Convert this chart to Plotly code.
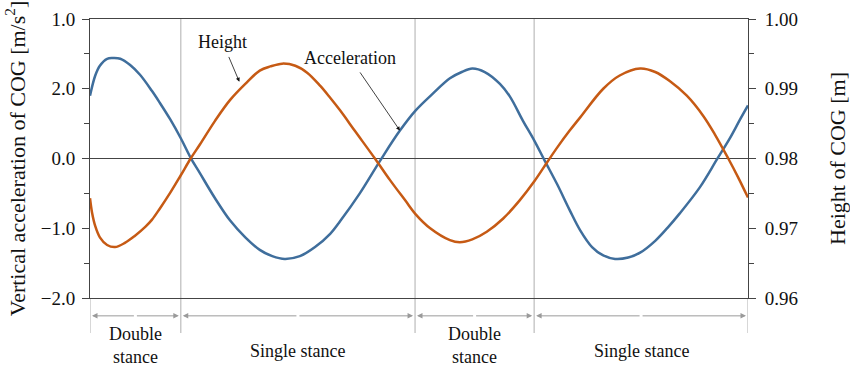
import plotly.graph_objects as go

# gait cycle [%] and COG signals ------------------------------------------------------------------
acc_t = [0.0, 0.8, 1.5, 2.6, 3.5, 4.6, 6.1, 7.6, 9.4, 10.6, 12.2, 13.8, 15.3, 16.7, 19.0, 21.3,
         23.6, 25.8, 27.7, 29.6, 31.9, 34.2, 36.5, 38.0, 41.0, 44.1, 47.1, 49.5, 52.1, 54.7, 56.5,
         58.1, 60.0, 62.3, 63.8, 65.8, 67.5, 69.1, 71.0, 72.9, 74.5, 76.3, 78.0, 79.8, 81.8, 83.6,
         85.9, 87.8, 89.6, 92.7, 95.3, 97.3, 98.8, 100.0]
acc = [0.90, 1.19, 1.33, 1.43, 1.44, 1.43, 1.34, 1.20, 0.97, 0.80, 0.56, 0.29, 0.01, -0.21, -0.57,
       -0.89, -1.13, -1.31, -1.40, -1.44, -1.40, -1.27, -1.08, -0.90, -0.50, -0.03, 0.40, 0.69, 0.93,
       1.15, 1.24, 1.29, 1.24, 1.07, 0.89, 0.54, 0.26, -0.03, -0.37, -0.74, -1.03, -1.27, -1.39, -1.44,
       -1.42, -1.35, -1.18, -0.99, -0.79, -0.41, -0.01, 0.30, 0.56, 0.76]

hgt_t = [0.0, 0.3, 0.8, 1.5, 2.6, 3.8, 5.3, 6.8, 8.4, 9.4, 10.6, 12.2, 13.8, 15.3, 16.7, 19.0,
         21.3, 23.6, 25.8, 27.4, 29.2, 31.2, 33.0, 35.0, 36.5, 38.0, 40.3, 43.3, 45.6, 47.9, 49.5,
         51.7, 54.7, 56.2, 58.1, 60.3, 62.8, 65.3, 67.5, 69.5, 71.1, 72.9, 74.5, 78.0, 80.5, 83.6,
         85.9, 88.1, 90.7, 93.2, 95.0, 97.0, 98.5, 100.0]
hgt = [0.9743, 0.9723, 0.9703, 0.9687, 0.9676, 0.9673, 0.9679, 0.9689, 0.9702, 0.9712, 0.9728,
       0.9751, 0.9776, 0.9800, 0.9820, 0.9854, 0.9884, 0.9907, 0.9926, 0.9932, 0.9936, 0.9933,
       0.9923, 0.9904, 0.9887, 0.9869, 0.9839, 0.9800, 0.9769, 0.9740, 0.9720, 0.9700, 0.9683,
       0.9680, 0.9684, 0.9695, 0.9714, 0.9740, 0.9767, 0.9795, 0.9817, 0.9840, 0.9859, 0.9900,
       0.9919, 0.9929, 0.9924, 0.9911, 0.9890, 0.9861, 0.9834, 0.9800, 0.9773, 0.9744]

# stance phases -----------------------------------------------------------------------------------
phase_edges = [0.0, 13.8, 49.4, 67.5, 100.0]
phase_names = ['Double<br>stance', 'Single stance', 'Double<br>stance', 'Single stance']

# axis ticks --------------------------------------------------------------------------------------
left_vals = [-2, -1, 0, 1, 2]
left_text = ['\u22122.0', '\u22121.0', '0.0', '2.0', '1.0']
right_vals = [0.96, 0.97, 0.98, 0.99, 1.00]

FONT = 'Liberation Serif'
BLUE = '#3f6e9c'
ORANGE = '#c65a14'

fig = go.Figure()

fig.add_scatter(x=acc_t, y=acc, mode='lines', name='Acceleration',
                line=dict(color=BLUE, width=2.5, shape='spline', smoothing=1))
fig.add_scatter(x=hgt_t, y=hgt, mode='lines', name='Height', yaxis='y2',
                line=dict(color=ORANGE, width=2.5, shape='spline', smoothing=1))

# phase separators + arrows below plot ------------------------------------------------------------
shapes = []
annotations = []
for i, xe in enumerate(phase_edges):
    inner = 0 < i < len(phase_edges) - 1
    shapes.append(dict(type='line', xref='x', yref='paper', x0=xe, x1=xe, y0=-0.125, y1=1 if inner else 0,
                       line=dict(color='#bcbcbc', width=1.2), layer='below'))

for i, name in enumerate(phase_names):
    a, b = phase_edges[i], phase_edges[i + 1]
    mid = (a + b) / 2
    for end in (a + 0.3, b - 0.3):
        annotations.append(dict(x=end, y=-0.064, xref='x', yref='paper', ax=mid, ay=0, axref='x',
                                ayref='pixel', text='', showarrow=True, arrowhead=2, arrowsize=1.1,
                                arrowwidth=1, arrowcolor='#9a9a9a'))
    yy = -0.17 if 'Double' in name else -0.19
    annotations.append(dict(x=mid, y=yy, xref='x', yref='paper', text=name, showarrow=False,
                            font=dict(family=FONT, size=18, color='#111'), yanchor='middle'))

# curve labels -------------------------------------------------------------------------------------
annotations.append(dict(x=22.7, y=0.9910, xref='x', yref='y2', text='Height', showarrow=True,
                        ax=-17, ay=-40, arrowhead=2, arrowsize=1, arrowwidth=0.8, arrowcolor='#111',
                        startstandoff=4, font=dict(family=FONT, size=18, color='#111')))
annotations.append(dict(x=47.1, y=0.40, xref='x', yref='y', text='Acceleration', showarrow=True,
                        ax=-50, ay=-73, arrowhead=2, arrowsize=1, arrowwidth=0.8, arrowcolor='#111',
                        startstandoff=4, font=dict(family=FONT, size=18, color='#111')))

fig.update_layout(
    width=850, height=372,
    margin=dict(l=90, r=102, t=19, b=74),
    plot_bgcolor='white', paper_bgcolor='white',
    showlegend=False,
    font=dict(family=FONT, size=18, color='#111'),
    shapes=shapes, annotations=annotations,
    xaxis=dict(range=[0, 100], showgrid=False, zeroline=False, showticklabels=False, ticks='',
               showline=True, mirror=True, linecolor='#444', linewidth=1, automargin=False),
    yaxis=dict(range=[-2, 2], tickvals=left_vals, ticktext=left_text, ticks='outside', ticklen=7,
               tickcolor='#444', showgrid=False, zeroline=True, zerolinecolor='#444', zerolinewidth=1,
               showline=True, linecolor='#444', linewidth=1, tickfont=dict(size=19), automargin=False,
               ticklabelstandoff=3,
               minor=dict(tickvals=[-1.5, -0.5, 0.5, 1.5], ticks='outside', ticklen=5, tickcolor='#444'),
               title=dict(text='Vertical acceleration of COG [m/s<sup>2</sup>]', standoff=9)),
    yaxis2=dict(range=[0.96, 1.00], overlaying='y', side='right', tickvals=right_vals, tickformat='.2f',
                ticks='outside', ticklen=7, tickcolor='#444', showgrid=False, zeroline=False,
                showline=True, linecolor='#444', linewidth=1, tickfont=dict(size=19), automargin=False,
                ticklabelstandoff=5,
                minor=dict(tickvals=[0.965, 0.975, 0.985, 0.995], ticks='outside', ticklen=5, tickcolor='#444'),
                title=dict(text='Height of COG [m]', standoff=37)),
)

# drop the page's default body margin so the chart sits at the window's corner
fig.write_html("out.html", config={'displayModeBar': False},
               post_script="document.body.style.margin='0';")
